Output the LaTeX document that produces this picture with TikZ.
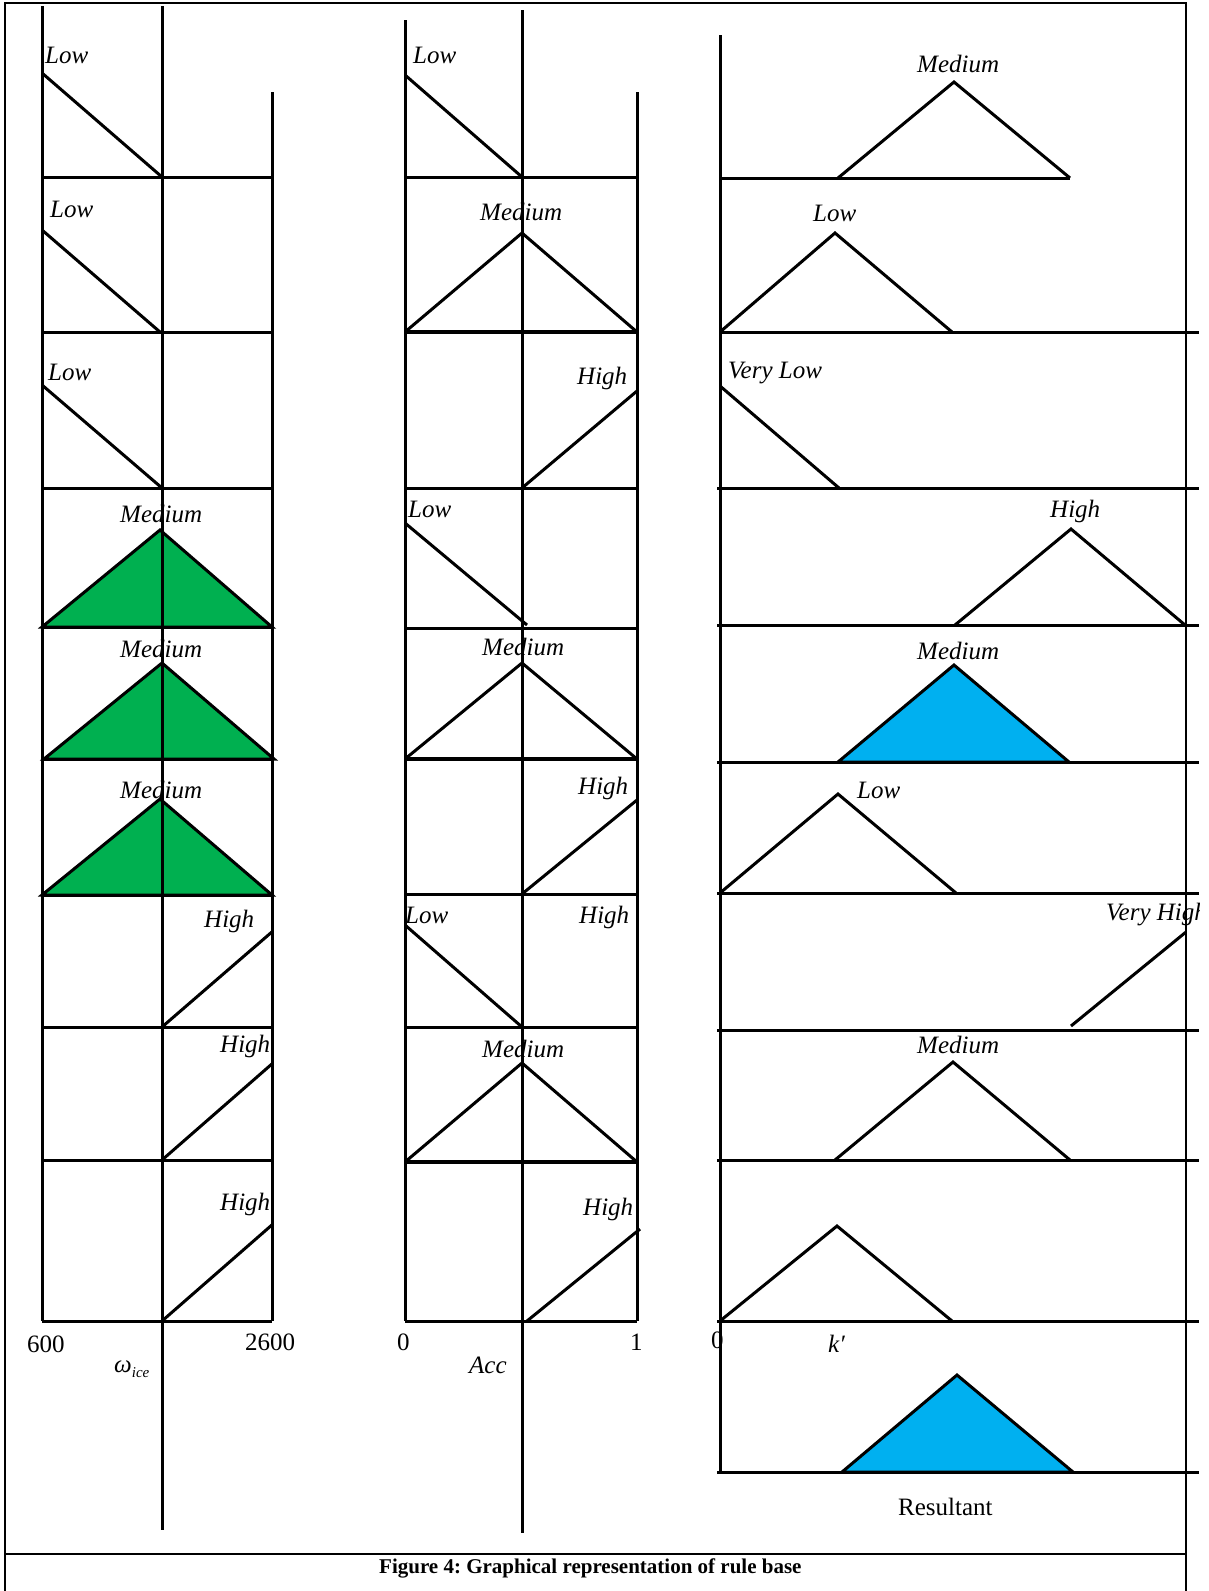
\documentclass[tikz,border=0pt]{standalone}
\usepackage{fontspec}
\setmainfont{Liberation Serif}
\frenchspacing
\newcommand\lblfont{\fontsize{25}{30}\selectfont\itshape}
\newcommand\numfont{\fontsize{25}{30}\selectfont}
\definecolor{wgreen}{RGB}{0,176,80}
\definecolor{wblue}{RGB}{0,176,240}
\tikzset{
  ln/.style={line width=3pt},
  frm/.style={line width=2pt},
  lbl/.style={font=\lblfont, inner sep=0pt, anchor=base west},
  num/.style={font=\numfont, inner sep=0pt, anchor=base west},
  gtri/.style={ln, fill=wgreen, line join=miter},
  btri/.style={ln, fill=wblue, line join=miter},
  mf/.style={ln, line join=miter}
}
\begin{document}
\begin{tikzpicture}[x=1pt,y=-1pt]
\useasboundingbox (0,0) rectangle (1208,1591);
% frame
\draw[frm] (4.5,1591) -- (4.5,3) -- (1186,3) -- (1186,1591);
\draw[frm] (4.5,1554) -- (1186,1554);
% ---------- left column ----------
\draw[gtri] (42,627) -- (160,530) -- (272,627) -- cycle;
\draw[gtri] (44,759) -- (162,663) -- (274,759) -- cycle;
\draw[gtri] (42,895) -- (160,799) -- (272,895) -- cycle;
\draw[ln] (42,6) -- (42,1321);
\draw[ln] (162,6) -- (162,1530);
\draw[ln] (272,92) -- (272,1321);
\foreach \y in {177,332,488,627,759,895,1027,1160,1321}
  \draw[ln] (42,\y) -- (272,\y);
\draw[ln] (42,73) -- (162,177);
\draw[ln] (42,230) -- (160,332);
\draw[ln] (42,385) -- (162,488);
\draw[ln] (162,1027) -- (273,931);
\draw[ln] (162,1160) -- (273,1063);
\draw[ln] (162,1321) -- (273,1224);
\node[lbl] (a1) at (45,63) {Low};
\node[lbl] (a2) at (50,217) {Low};
\node[lbl] (a3) at (48,380) {Low};
\node[lbl] (a4) at (120,522) {Medium};
\node[lbl] (a5) at (120,657) {Medium};
\node[lbl] (a6) at (120,798) {Medium};
\node[lbl] (a7) at (204,927) {High};
\node[lbl] (a8) at (220,1052) {High};
\node[lbl] (a9) at (220,1210) {High};
\node[num] (a600) at (27,1352) {600};
\node[num] (a2600) at (245,1350) {2600};
\node[lbl] (aw) at (114,1372) {ω\raisebox{-5pt}{\fontsize{15}{15}\selectfont\itshape ice}};
% ---------- middle column ----------
\draw[ln] (405,20) -- (405,1321);
\draw[ln] (522,10) -- (522,1533);
\draw[ln] (637,92) -- (637,1321);
\foreach \y in {177,488,628,894,1027,1321}
  \draw[ln] (405,\y) -- (637,\y);
\foreach \y in {332,759,1162}
  \draw[line width=4pt] (405,\y) -- (637,\y);
\draw[ln] (405,75) -- (522,177);
\draw[mf] (405,332) -- (522,233) -- (637,332);
\draw[ln] (522,488) -- (637,391);
\draw[ln] (405,523) -- (527,625);
\draw[mf] (405,759) -- (522,663) -- (637,759);
\draw[ln] (522,894) -- (637,800);
\draw[ln] (405,925) -- (522,1027);
\draw[mf] (405,1162) -- (522,1063) -- (637,1162);
\draw[ln] (527,1321) -- (640,1229);
\node[lbl] (b1) at (413,63) {Low};
\node[lbl] (b2) at (480,220) {Medium};
\node[lbl] (b3) at (577,384) {High};
\node[lbl] (b4) at (408,517) {Low};
\node[lbl] (b5) at (482,655) {Medium};
\node[lbl] (b6) at (578,794) {High};
\node[lbl] (b7) at (405,923) {Low};
\node[lbl] (b7h) at (579,923) {High};
\node[lbl] (b8) at (482,1057) {Medium};
\node[lbl] (b9) at (583,1215) {High};
\node[num] (b0) at (397,1350) {0};
\node[num] (b1n) at (630,1350) {1};
\node[lbl] (bacc) at (469,1373) {Acc};
% ---------- right column ----------
\draw[btri] (838,762) -- (954,665) -- (1069,762) -- cycle;
\draw[btri] (842,1472) -- (957,1375) -- (1073,1472) -- cycle;
\draw[ln] (720,35) -- (720,1472);
\draw[ln] (720,178) -- (1070,178);
\draw[ln] (720,332) -- (1199,332);
\foreach \y in {488,625,762,893,1030,1160,1321,1472}
  \draw[ln] (717,\y) -- (1199,\y);
\draw[mf] (838,178) -- (954,82) -- (1070,178);
\draw[mf] (720,332) -- (835,233) -- (952,332);
\draw[ln] (720,386) -- (839,488);
\draw[mf] (955,625) -- (1071,529) -- (1185,625);
\draw[mf] (720,893) -- (838,794) -- (956,893);
\draw[ln] (1071,1026) -- (1186,932);
\draw[mf] (835,1160) -- (953,1062) -- (1070,1160);
\draw[mf] (720,1321) -- (837,1226) -- (952,1321);
\node[lbl] (c1) at (917,72) {Medium};
\node[lbl] (c2) at (813,221) {Low};
\node[lbl] (c3) at (728,378) {Very Low};
\node[lbl] (c4) at (1050,517) {High};
\node[lbl] (c5) at (917,659) {Medium};
\node[lbl] (c6) at (857,798) {Low};
\begin{scope}
  \clip (1000,880) rectangle (1199,940);
  \node[lbl] (c7) at (1106,920) {Very High};
\end{scope}
\node[lbl] (c8) at (917,1053) {Medium};
\node[num] (c0) at (711,1348) {0};
\node[lbl] (ck) at (828,1352) {k′};
\node[num] (cres) at (898,1515) {Resultant};
% caption
\node[font=\fontsize{21}{25}\selectfont\bfseries, inner sep=0pt, anchor=base west] (cap) at (379,1573) {Figure 4: Graphical representation of rule base};
\end{tikzpicture}
\end{document}
